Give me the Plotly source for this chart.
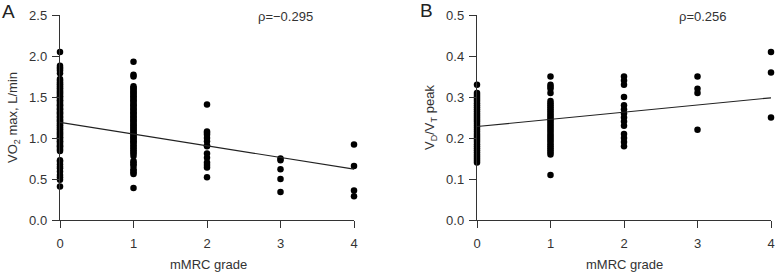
import plotly.graph_objects as go

# ---------------- data ----------------
grades = [0, 1, 2, 3, 4]

vo2_g0 = [2.05, 1.88, 1.86, 1.84, 1.82, 1.79, 1.72, 1.70, 1.68, 1.66, 1.65, 1.63, 1.61, 1.60,
          1.58, 1.56, 1.55, 1.53, 1.51, 1.50, 1.48, 1.46, 1.45, 1.43, 1.41, 1.40, 1.38, 1.36,
          1.35, 1.33, 1.31, 1.30, 1.28, 1.26, 1.25, 1.23, 1.21, 1.20, 1.18, 1.16, 1.15, 1.13,
          1.11, 1.10, 1.08, 1.06, 1.05, 1.03, 1.01, 1.00, 0.98, 0.96, 0.95, 0.93, 0.91, 0.90,
          0.88, 0.86, 0.84, 0.73, 0.71, 0.68, 0.65, 0.63, 0.59, 0.55, 0.52, 0.49, 0.41]
vo2_g1 = [1.93, 1.77, 1.75, 1.63, 1.61, 1.60, 1.58, 1.56, 1.55, 1.53, 1.51, 1.50, 1.48, 1.46,
          1.45, 1.43, 1.41, 1.40, 1.38, 1.36, 1.35, 1.33, 1.31, 1.30, 1.28, 1.26, 1.25, 1.23,
          1.21, 1.20, 1.18, 1.16, 1.15, 1.13, 1.11, 1.10, 1.08, 1.06, 1.05, 1.03, 1.01, 1.00,
          0.98, 0.96, 0.95, 0.93, 0.91, 0.89, 0.87, 0.85, 0.83, 0.81, 0.78, 0.72, 0.70, 0.68,
          0.66, 0.62, 0.60, 0.58, 0.56, 0.39]
vo2_g2 = [1.41, 1.08, 1.06, 1.04, 1.00, 0.96, 0.91, 0.90, 0.81, 0.76, 0.70, 0.67, 0.64, 0.52]
vo2_g3 = [0.75, 0.73, 0.62, 0.50, 0.34]
vo2_g4 = [0.92, 0.66, 0.36, 0.29]
vo2_fit_x = [0, 4]
vo2_fit_y = [1.19, 0.62]

vdvt_g0 = [0.33, 0.31, 0.305, 0.30, 0.295, 0.29, 0.285, 0.28, 0.275, 0.27, 0.265, 0.26, 0.255,
           0.25, 0.245, 0.24, 0.235, 0.23, 0.225, 0.22, 0.215, 0.21, 0.205, 0.20, 0.195, 0.19,
           0.185, 0.18, 0.175, 0.17, 0.165, 0.16, 0.155, 0.15, 0.145, 0.14]
vdvt_g1 = [0.35, 0.33, 0.325, 0.32, 0.31, 0.29, 0.285, 0.28, 0.275, 0.27, 0.265, 0.26, 0.255,
           0.25, 0.245, 0.24, 0.235, 0.23, 0.225, 0.22, 0.215, 0.21, 0.205, 0.20, 0.195, 0.19,
           0.185, 0.18, 0.175, 0.17, 0.165, 0.16, 0.11]
vdvt_g2 = [0.35, 0.34, 0.33, 0.30, 0.28, 0.27, 0.26, 0.25, 0.24, 0.23, 0.21, 0.20, 0.19, 0.18]
vdvt_g3 = [0.35, 0.32, 0.31, 0.22]
vdvt_g4 = [0.41, 0.36, 0.25]
vdvt_fit_x = [0, 4]
vdvt_fit_y = [0.228, 0.298]

vo2_ticks = [0.0, 0.5, 1.0, 1.5, 2.0, 2.5]
vdvt_ticks = [0.0, 0.1, 0.2, 0.3, 0.4, 0.5]

rho_a = "ρ=−0.295"
rho_b = "ρ=0.256"

# ---------------- figure ----------------
W, H = 776, 272
FONT = "Liberation Sans, Arial, Helvetica, sans-serif"
AX = "#333333"
TXT = "#333333"

def px(x):
    return x / W

def py(y):
    return 1 - y / H

fig = go.Figure()

def add_groups(groups, xa, ya):
    xs, ys = [], []
    for g, vals in zip(grades, groups):
        xs += [g] * len(vals)
        ys += vals
    fig.add_trace(go.Scatter(x=xs, y=ys, mode="markers", xaxis=xa, yaxis=ya,
                             marker=dict(color="black", size=6.5, line=dict(width=0)),
                             cliponaxis=False, showlegend=False, hoverinfo="skip"))

add_groups([vo2_g0, vo2_g1, vo2_g2, vo2_g3, vo2_g4], "x", "y")
fig.add_trace(go.Scatter(x=vo2_fit_x, y=vo2_fit_y, mode="lines", xaxis="x", yaxis="y",
                         line=dict(color="#222", width=1.2), showlegend=False, hoverinfo="skip"))
add_groups([vdvt_g0, vdvt_g1, vdvt_g2, vdvt_g3, vdvt_g4], "x2", "y2")
fig.add_trace(go.Scatter(x=vdvt_fit_x, y=vdvt_fit_y, mode="lines", xaxis="x2", yaxis="y2",
                         line=dict(color="#222", width=1.2), showlegend=False, hoverinfo="skip"))

ydom = [py(220), py(15)]
common_x = dict(range=[0, 4], tickvals=grades, ticktext=[str(g) for g in grades],
                showline=True, linecolor=AX, linewidth=1.4, ticks="outside", ticklen=7,
                tickcolor=AX, tickwidth=1.4, showgrid=False, zeroline=False, automargin=False,
                ticklabelstandoff=4,
                tickfont=dict(family=FONT, size=13, color=TXT), fixedrange=True)
common_y = dict(showline=True, linecolor=AX, linewidth=1.4, ticks="outside", ticklen=7,
                tickcolor=AX, tickwidth=1.4, showgrid=False, zeroline=False, automargin=False,
                ticklabelstandoff=2,
                tickformat=".1f", tickfont=dict(family=FONT, size=13, color=TXT),
                domain=ydom, fixedrange=True)

fig.update_layout(
    template="none",
    width=W, height=H, margin=dict(l=0, r=0, t=0, b=0, pad=0, autoexpand=False),
    paper_bgcolor="white", plot_bgcolor="white",
    font=dict(family=FONT, size=13, color=TXT),
    xaxis=dict(domain=[px(60), px(354)], anchor="y", **common_x),
    yaxis=dict(range=[0, 2.5], tickvals=vo2_ticks, anchor="x", **common_y),
    xaxis2=dict(domain=[px(477), px(771)], anchor="y2", **common_x),
    yaxis2=dict(range=[0, 0.5], tickvals=vdvt_ticks, anchor="x2", **common_y),
)

ann = [
    dict(text="A", x=px(0), y=py(12), xanchor="left", yanchor="middle", font=dict(size=19, color="#222")),
    dict(text="B", x=px(418), y=py(11), xanchor="left", yanchor="middle", font=dict(size=19, color="#222")),
    dict(text=rho_a, x=px(285), y=py(16), xanchor="center", yanchor="middle", font=dict(size=13, color=TXT)),
    dict(text=rho_b, x=px(703), y=py(16), xanchor="center", yanchor="middle", font=dict(size=13, color=TXT)),
    dict(text="mMRC grade", x=px(208), y=py(264), xanchor="center", yanchor="middle", font=dict(size=13, color=TXT)),
    dict(text="mMRC grade", x=px(624), y=py(264), xanchor="center", yanchor="middle", font=dict(size=13, color=TXT)),
    dict(text="VO<sub>2</sub> max, L/min", x=px(13), y=py(118), xanchor="center", yanchor="middle",
         textangle=-90, font=dict(size=13, color=TXT)),
    dict(text="V<sub>D</sub>/V<sub>T</sub> peak", x=px(430), y=py(118), xanchor="center", yanchor="middle",
         textangle=-90, font=dict(size=13, color=TXT)),
]
for a in ann:
    a.update(xref="paper", yref="paper", showarrow=False)
    a["font"]["family"] = FONT
fig.update_layout(annotations=ann)

css_fix = (
    "var s=document.createElement('style');"
    "s.textContent='html,body{margin:0!important;padding:0!important;overflow:hidden!important;"
    "width:776px;height:272px;}';"
    "document.head.appendChild(s);"
)
fig.write_html("out.html", config={"displayModeBar": False}, post_script=css_fix)
